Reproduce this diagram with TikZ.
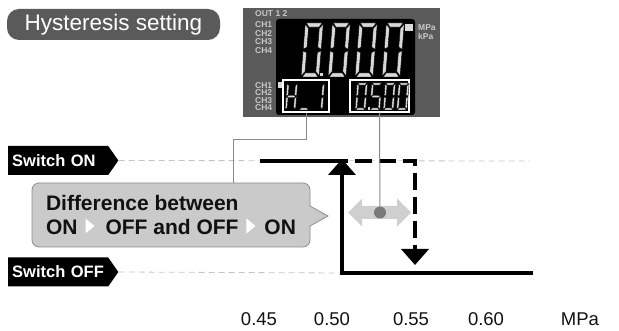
\documentclass[tikz,border=0pt]{standalone}
\usepackage{fontspec}
\setmainfont{Liberation Sans}
\usetikzlibrary{arrows.meta,shapes.symbols}
\definecolor{ink}{HTML}{111111}
\definecolor{panelgray}{HTML}{5A5A5A}
\definecolor{chgray}{HTML}{C8C8C8}
\definecolor{lcdgray}{HTML}{D8D8D8}
\definecolor{bubblefill}{HTML}{CACACA}
\definecolor{bubbleline}{HTML}{8C8C8C}
\definecolor{guidegray}{HTML}{C4C4C4}
\definecolor{wiregray}{HTML}{8A8A8A}
\definecolor{spangray}{HTML}{CFCFCF}
\definecolor{dotgray}{HTML}{7A7A7A}

% seven segments of one LCD digit, unit box 1 x 2
\newcommand\segA{(0.06,2)--(0.94,2)--(0.78,1.85)--(0.22,1.85)--cycle}
\newcommand\segB{(1,1.96)--(0.8,1.8)--(0.8,1.1)--(1,1.03)--cycle}
\newcommand\segC{(1,0.97)--(0.8,0.9)--(0.8,0.2)--(1,0.04)--cycle}
\newcommand\segD{(0.06,0)--(0.94,0)--(0.78,0.15)--(0.22,0.15)--cycle}
\newcommand\segE{(0,0.97)--(0.2,0.9)--(0.2,0.2)--(0,0.04)--cycle}
\newcommand\segF{(0,1.96)--(0.2,1.8)--(0.2,1.1)--(0,1.03)--cycle}
\newcommand\segG{(0.06,1)--(0.22,1.075)--(0.78,1.075)--(0.94,1)--(0.78,0.925)--(0.22,0.925)--cycle}
\newcommand\lcddigit[4]{%
  \begin{scope}[shift={#1},x=#2,y=#3,xslant=0.08]
    \foreach \s in {#4} {\filldraw[lcdseg] \csname seg\s\endcsname;}
  \end{scope}}
\newcommand\wtri{\tikz[baseline=-1pt,sharp corners]\fill[white] (0pt,0pt)--(9pt,7.5pt)--(0pt,15pt)--cycle;}

\begin{document}
\begin{tikzpicture}[
  x=1pt,y=-1pt,line join=miter,
  tag/.style={signal,signal to=east,signal pointer angle=110,fill=black,text=white,
    font=\bfseries\fontsize{16.5}{18}\selectfont,minimum height=29pt,text width=92pt,
    inner xsep=4pt,align=left,anchor=west},
  chtext/.style={anchor=west,inner sep=0pt,text=chgray,font=\bfseries\fontsize{8.5}{9}\selectfont},
  lcdbox/.style={draw=white,line width=1.2pt,inner sep=0pt},
  lcdseg/.style={fill=lcdgray,draw=black,line width=0.4pt},
  guide/.style={draw=guidegray,line width=0.8pt,dash pattern=on 6pt off 4pt},
  wire/.style={draw=wiregray,line width=1pt},
  level/.style={draw=black,line width=4pt},
  tip/.style={-{Triangle[width=27pt,length=16pt]}},
  axis/.style={text=ink,font=\fontsize{18.5}{20}\selectfont}
]
\useasboundingbox (0,0) rectangle (619,331);

% title
\node[fill=panelgray,text=white,rounded corners=12pt,minimum width=213pt,minimum height=31pt,
  font=\fontsize{22.5}{24}\selectfont] (hyst) at (113.5,24.5) {Hysteresis setting};

% display panel
\fill[panelgray] (243,8) rectangle (440,117);
\fill[black,rounded corners=3pt] (276,19) rectangle (415,115);
\node[chtext] (out) at (255,14) {OUT 1 2};
\foreach \i/\y in {1/25,2/33.5,3/42,4/50.5}
  \node[chtext] (chup\i) at (255,\y) {CH\i};
\foreach \i/\y in {1/85.5,2/93,3/100.5,4/108}
  \node[chtext] (chlow\i) at (255,\y) {CH\i};
\node[chtext] (mpa) at (418,28) {MPa};
\node[chtext] (kpa) at (418,36) {kPa};
\fill[lcdgray] (405,24) rectangle (413,31);
\fill[lcdgray] (278,82) rectangle (283,88);

\foreach \x in {301,328,355,382}
  \lcddigit{(\x,77)}{18pt}{27pt}{A,B,C,D,E,F}
\fill[lcdgray] (320,73) rectangle (323,76);

\node[lcdbox,minimum width=46pt,minimum height=32pt] (hbox) at (306,96) {};
\node[lcdbox,minimum width=59pt,minimum height=32pt] (valbox) at (379.5,96) {};
\lcddigit{(285,110)}{10.5pt}{13.5pt}{B,C,E,F,G}
\lcddigit{(298.5,110)}{10.5pt}{13.5pt}{D}
\lcddigit{(312,110)}{10.5pt}{13.5pt}{B,C}
\lcddigit{(355,110)}{10.5pt}{13.5pt}{A,B,C,D,E,F}
\lcddigit{(369.5,110)}{10.5pt}{13.5pt}{A,F,G,C,D}
\lcddigit{(383,110)}{10.5pt}{13.5pt}{A,B,C,D,E,F}
\lcddigit{(396.5,110)}{10.5pt}{13.5pt}{A,B,C,D,E,F}
\fill[lcdgray] (367.5,107.5) rectangle (369.5,110);

% switch levels
\node[tag] (swon) at (8,160.5) {Switch ON};
\node[tag] (swoff) at (8,272) {Switch OFF};
\coordinate (onend) at (530,161);
\coordinate (onstart) at (260,161);
\coordinate (onstep) at (348,161);
\coordinate (offstep) at (415,161);
\coordinate (offtip) at (415,265);
\coordinate (lowcorner) at (342,273);
\coordinate (ontip) at (342,159);
\coordinate (offend) at (533,273);
\draw[guide] (swon.east) -- (onend);
\draw[guide] (swoff.east) -- (lowcorner);
\draw[level] (onstart) -- (onstep);
\draw[level,tip,dash pattern=on 17pt off 7pt,dash phase=17pt] (onstep) -- (offstep) -- (offtip);
\draw[level,tip] (offend) -- (lowcorner) -- (ontip);

% hysteresis span
\fill[spangray] (348,212.5) -- (362,198.5) -- (362,206) -- (397,206) -- (397,198.5) -- (411,212.5)
  -- (397,226.5) -- (397,219) -- (362,219) -- (362,226.5) -- cycle;
\node[circle,fill=dotgray,minimum size=12pt,inner sep=0pt] (dot) at (380,212.5) {};
\draw[wire] (valbox.south) -- (dot);

% callout
\node[fill=bubblefill,draw=bubbleline,line width=0.8pt,rounded corners=7pt,minimum width=278pt,
  minimum height=64pt,align=left,text=ink,font=\bfseries\fontsize{21}{24}\selectfont] (bubble) at (171,215)
  {Difference between\\ON\hspace{8pt}\wtri\hspace{11pt}OFF and OFF\hspace{8pt}\wtri\hspace{9pt}ON};
\fill[bubblefill] (309,206) -- (328,216) -- (309,226) -- cycle;
\draw[draw=bubbleline,line width=0.8pt] (310,206) -- (328,216) -- (310,226);
\coordinate (hbend) at (233,140);
\draw[wire] (hbox.south) |- (hbend) -- (hbend |- bubble.north);

% pressure axis
\foreach \v/\x in {0.45/259,0.50/332,0.55/411,0.60/486}
  \node[axis] (tick\x) at (\x,319) {\v};
\node[axis] (unit) at (580,319) {MPa};
\end{tikzpicture}
\end{document}
